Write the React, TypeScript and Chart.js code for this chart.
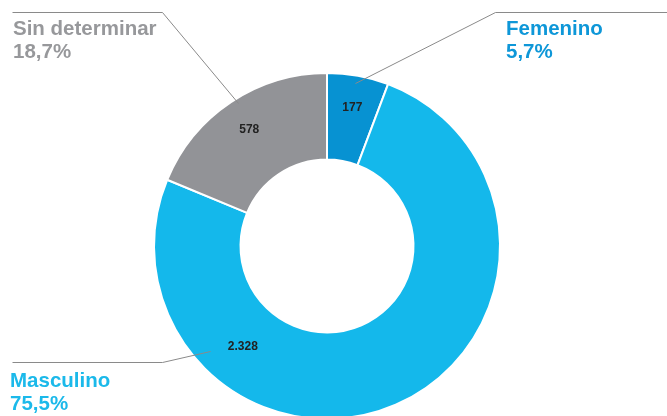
import React, { useEffect, useRef } from "react";
import { Chart, registerables } from "chart.js";

Chart.register(...registerables);

const categories = ["Femenino", "Masculino", "Sin determinar"];
const values = [177, 2328, 578];
const valueLabels = ["177", "2.328", "578"];
const percentLabels = ["5,7%", "75,5%", "18,7%"];

const sliceColors = ["#0792d2", "#14b8eb", "#929397"];
const textColors = ["#0e97d8", "#1bb9ea", "#97989b"];

// callout layout (text anchor + leader polyline), in page pixels
const callouts = [
  { x: 506, y: 35, line: [[355, 83], [495, 12], [667, 12]] },
  { x: 10, y: 387, line: [[12, 362], [162, 362], [210, 351]] },
  { x: 13, y: 35, line: [[12, 12], [162, 12], [238, 103]] },
];
// value-label placement: [angle from top in degrees (null = slice middle), radius]
const valuePos: [number | null, number][] = [
  [null, 141],
  [220, 131],
  [null, 140],
];

const labelPlugin = {
  id: "callouts",
  afterDraw(chart: any) {
    const ctx = chart.ctx;
    const meta = chart.getDatasetMeta(0);
    ctx.save();
    // leader lines
    ctx.strokeStyle = "#8a8a8a";
    ctx.lineWidth = 1;
    callouts.forEach((c) => {
      ctx.beginPath();
      c.line.forEach((p, i) => {
        if (i === 0) ctx.moveTo(p[0] + 0.5, p[1] + 0.5);
        else ctx.lineTo(p[0] + 0.5, p[1] + 0.5);
      });
      ctx.stroke();
    });
    // category + percent
    ctx.textAlign = "left";
    ctx.textBaseline = "alphabetic";
    ctx.font = "bold 20.5px 'Liberation Sans', Arial, sans-serif";
    callouts.forEach((c, i) => {
      ctx.fillStyle = textColors[i];
      ctx.fillText(categories[i], c.x, c.y);
      ctx.fillText(percentLabels[i], c.x, c.y + 23);
    });
    // value labels
    ctx.font = "bold 12px 'Liberation Sans', Arial, sans-serif";
    ctx.fillStyle = "#222222";
    ctx.textAlign = "center";
    ctx.textBaseline = "middle";
    meta.data.forEach((arc: any, i: number) => {
      const p = arc.getProps(["x", "y", "startAngle", "endAngle"], true);
      const [deg, r] = valuePos[i];
      const a = deg === null ? (p.startAngle + p.endAngle) / 2 : (deg * Math.PI) / 180 - Math.PI / 2;
      ctx.fillText(valueLabels[i], p.x + r * Math.cos(a), p.y + r * Math.sin(a));
    });
    ctx.restore();
  },
};

export default function App() {
  const ref = useRef<HTMLCanvasElement | null>(null);
  useEffect(() => {
    if (!ref.current) return;
    const chart = new Chart(ref.current, {
      type: "doughnut",
      data: {
        labels: categories,
        datasets: [
          {
            data: values,
            backgroundColor: sliceColors,
            borderColor: "#ffffff",
            borderWidth: 2,
          },
        ],
      },
      options: {
        animation: false,
        responsive: true,
        maintainAspectRatio: false,
        cutout: "50%",
        layout: { padding: { left: 153, right: 166, top: 72, bottom: 20 } },
        plugins: { legend: { display: false }, tooltip: { enabled: false } },
      },
      plugins: [labelPlugin],
    });
    return () => chart.destroy();
  }, []);
  return (
    <div style={{ position: "fixed", left: 0, top: 0, width: 667, height: 416, overflow: "hidden", background: "#fff" }}>
      <div style={{ position: "relative", width: 667, height: 440 }}>
        <canvas ref={ref} />
      </div>
    </div>
  );
}
